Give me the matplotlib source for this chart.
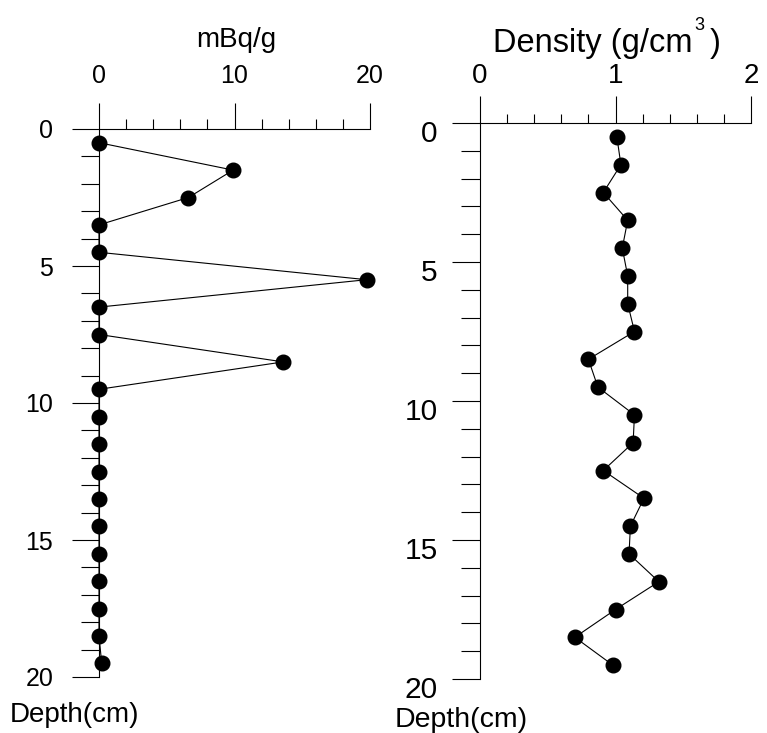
import matplotlib
matplotlib.use('Agg')
import matplotlib.pyplot as plt
from matplotlib.ticker import MultipleLocator
from matplotlib.transforms import ScaledTranslation

plt.rcParams['font.family'] = ['Liberation Sans', 'DejaVu Sans']

# depth of each sample (cm) and the two measured profiles
depth = [0.5, 1.5, 2.5, 3.5, 4.5, 5.5, 6.5, 7.5, 8.5, 9.5,
         10.5, 11.5, 12.5, 13.5, 14.5, 15.5, 16.5, 17.5, 18.5, 19.5]
activity = [0, 9.9, 6.6, 0, 0, 19.75, 0, 0, 13.6, 0,
            0, 0, 0, 0, 0, 0, 0, 0, 0, 0.2]
density = [1.01, 1.04, 0.91, 1.09, 1.05, 1.09, 1.09, 1.14, 0.80, 0.87,
           1.14, 1.13, 0.91, 1.21, 1.11, 1.10, 1.32, 1.00, 0.70, 0.98]

W, H = 767, 733
fig = plt.figure(figsize=(W / 100, H / 100), dpi=100)


def style_axis(ax, xmax, xmajor, xminor, tick_font, xpad, ypad, lens):
    for side in ['right', 'bottom']:
        ax.spines[side].set_visible(False)
    for side in ['top', 'left']:
        ax.spines[side].set_linewidth(0.8)
    ax.set_xlim(0, xmax)
    ax.set_ylim(20, 0)
    ax.xaxis.set_ticks_position('top')
    ax.xaxis.set_major_locator(MultipleLocator(xmajor))
    ax.xaxis.set_minor_locator(MultipleLocator(xminor))
    ax.yaxis.set_major_locator(MultipleLocator(5))
    ax.yaxis.set_minor_locator(MultipleLocator(1))
    ax.tick_params(axis='x', which='major', direction='out', length=lens[0],
                   width=0.8, labelsize=tick_font[0], pad=xpad)
    ax.tick_params(axis='x', which='minor', direction='out', length=lens[1], width=0.8)
    ax.tick_params(axis='y', which='major', direction='out', length=lens[2],
                   width=0.8, labelsize=tick_font[1], pad=ypad)
    ax.tick_params(axis='y', which='minor', direction='out', length=lens[3], width=0.8)


# --- left panel: activity ---
ax1 = fig.add_axes([99 / W, 1 - 677 / H, 271 / W, 548 / H])
style_axis(ax1, 20, 10, 2, (18, 18), 11, 13.5, (18.7, 7.2, 19.4, 13))
ax1.plot(activity, depth, color='black', lw=0.8, marker='o', ms=10.5,
         mfc='black', mec='black', clip_on=False)

# --- right panel: density ---
ax2 = fig.add_axes([480 / W, 1 - 679 / H, 271 / W, 556 / H])
style_axis(ax2, 2, 1, 0.2, (20, 21.5), 5, 10.5, (19.4, 6.7, 20, 13.7))
ax2.plot(density, depth, color='black', lw=0.8, marker='o', ms=10.5,
         mfc='black', mec='black', clip_on=False)
for lbl in ax2.get_yticklabels():
    lbl.set_transform(lbl.get_transform() + ScaledTranslation(0, -0.08, fig.dpi_scale_trans))

# titles and depth labels
fig.text(236 / W, 1 - 47 / H, 'mBq/g', ha='center', va='baseline', fontsize=20)
fig.text(493 / W, 1 - 52 / H, 'Density (g/cm', ha='left', va='baseline', fontsize=23.5)
fig.text(699 / W, 1 - 30 / H, '3', ha='center', va='baseline', fontsize=13)
fig.text(710 / W, 1 - 52 / H, ')', ha='left', va='baseline', fontsize=23.5)
fig.text(10 / W, 1 - 722 / H, 'Depth(cm)', ha='left', va='baseline', fontsize=20)
fig.text(395 / W, 1 - 727 / H, 'Depth(cm)', ha='left', va='baseline', fontsize=20.5)

fig.savefig('out.png', dpi=100)
